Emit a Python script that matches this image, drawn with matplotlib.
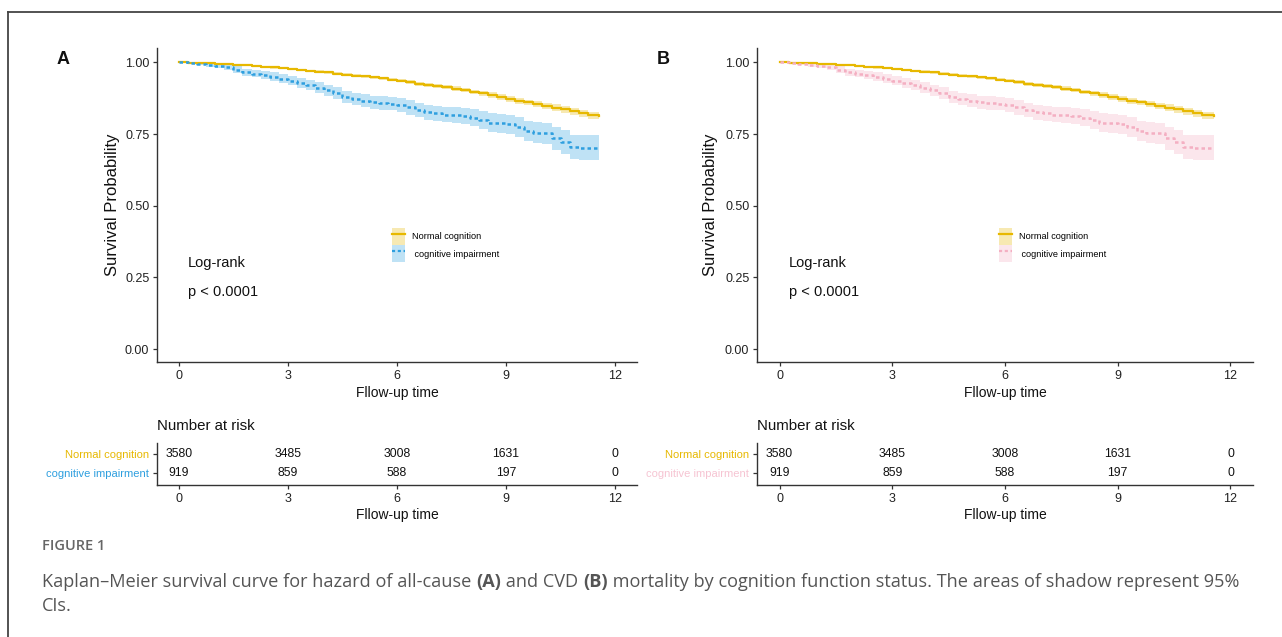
import matplotlib
matplotlib.use('Agg')
import matplotlib.pyplot as plt
from matplotlib.lines import Line2D
from matplotlib.patches import Patch
from matplotlib.text import Annotation
import numpy as np

# ---------------- data ----------------
time = [0, 0.25, 0.5, 0.75, 1.0, 1.25, 1.5, 1.75, 2.0, 2.25, 2.5, 2.75, 3.0,
        3.25, 3.5, 3.75, 4.0, 4.25, 4.5, 4.75, 5.0, 5.25, 5.5, 5.75, 6.0,
        6.25, 6.5, 6.75, 7.0, 7.25, 7.5, 7.75, 8.0, 8.25, 8.5, 8.75, 9.0,
        9.25, 9.5, 9.75, 10.0, 10.25, 10.5, 10.75, 11.0, 11.25, 11.55]

surv_normal = [1.000, 0.999, 0.998, 0.996, 0.995, 0.994, 0.991, 0.989, 0.987,
               0.985, 0.982, 0.980, 0.977, 0.974, 0.971, 0.968, 0.965, 0.961,
               0.957, 0.954, 0.951, 0.948, 0.944, 0.940, 0.936, 0.931, 0.926,
               0.922, 0.919, 0.914, 0.908, 0.903, 0.897, 0.892, 0.886, 0.879,
               0.872, 0.866, 0.860, 0.854, 0.848, 0.842, 0.836, 0.829, 0.822,
               0.815, 0.812]
ci_normal = [0.000, 0.001, 0.001, 0.002, 0.002, 0.002, 0.003, 0.003, 0.003,
             0.003, 0.004, 0.004, 0.004, 0.004, 0.004, 0.005, 0.005, 0.005,
             0.005, 0.005, 0.006, 0.006, 0.006, 0.006, 0.006, 0.007, 0.007,
             0.007, 0.007, 0.007, 0.008, 0.008, 0.008, 0.008, 0.009, 0.009,
             0.009, 0.010, 0.010, 0.010, 0.011, 0.011, 0.011, 0.012, 0.012,
             0.013, 0.013]

surv_impair = [1.000, 0.998, 0.995, 0.992, 0.988, 0.983, 0.975, 0.966, 0.961,
               0.955, 0.950, 0.943, 0.936, 0.928, 0.921, 0.912, 0.903, 0.893,
               0.880, 0.872, 0.866, 0.861, 0.858, 0.856, 0.852, 0.843, 0.833,
               0.826, 0.822, 0.818, 0.816, 0.813, 0.807, 0.798, 0.790, 0.788,
               0.784, 0.774, 0.760, 0.755, 0.752, 0.735, 0.722, 0.705, 0.703,
               0.703, 0.703]
ci_impair = [0.000, 0.003, 0.005, 0.007, 0.008, 0.010, 0.011, 0.012, 0.013,
             0.014, 0.015, 0.015, 0.016, 0.017, 0.018, 0.018, 0.019, 0.020,
             0.021, 0.021, 0.022, 0.022, 0.023, 0.023, 0.024, 0.025, 0.025,
             0.026, 0.027, 0.027, 0.028, 0.029, 0.030, 0.031, 0.032, 0.033,
             0.034, 0.035, 0.036, 0.037, 0.038, 0.039, 0.041, 0.043, 0.045,
             0.045, 0.045]

risk_times = [0, 3, 6, 9, 12]
risk_normal = [3580, 3485, 3008, 1631, 0]
risk_impair = [919, 859, 588, 197, 0]
groups = ['Normal cognition', 'cognitive impairment']
x_ticks = [0, 3, 6, 9, 12]
y_ticks = [0.00, 0.25, 0.50, 0.75, 1.00]

# ---------------- style ----------------
W, H = 1282, 637
SANS = ['Liberation Sans', 'DejaVu Sans']
CAP = ['Open Sans', 'DejaVu Sans']
plt.rcParams['font.family'] = SANS

col_normal = '#E7B800'
col_blue = '#2E9FDF'
col_pink = '#F4AFC2'
axis_col = '#333333'
txt_col = '#111111'

fig = plt.figure(figsize=(W / 100, H / 100), dpi=100)


def fx(px):
    return px / W


def fy(py):
    return 1 - py / H


def style_axes(ax, labelsize=9):
    for s in ['top', 'right']:
        ax.spines[s].set_visible(False)
    for s in ['left', 'bottom']:
        ax.spines[s].set_color(axis_col)
        ax.spines[s].set_linewidth(1.0)
    ax.tick_params(axis='both', length=3, width=0.9, color=axis_col,
                   labelsize=labelsize, labelcolor='#222222', pad=2.5)


def panel(left_px, right_px, letter, imp_col, imp_label_col, legend_xy):
    t = np.array(time)
    sn = np.array(surv_normal)
    cn = np.array(ci_normal)
    si = np.array(surv_impair)
    cimp = np.array(ci_impair)

    ax = fig.add_axes([fx(left_px), fy(362), fx(right_px - left_px), (362 - 48) / H])
    style_axes(ax)
    ax.fill_between(t, sn - cn, sn + cn, step='post', color=col_normal,
                    alpha=0.3, lw=0)
    ax.fill_between(t, si - cimp, si + cimp, step='post', color=imp_col,
                    alpha=0.3, lw=0)
    ax.step(t, sn, where='post', color=col_normal, lw=1.6)
    ax.step(t, si, where='post', color=imp_col, lw=1.8,
            linestyle=(0, (1.4, 1.2)))
    ax.set_xlim(-0.6, 12.6)
    ax.set_ylim(-0.045, 1.05)
    ax.set_xticks(x_ticks)
    ax.set_yticks(y_ticks)
    ax.set_yticklabels(['%.2f' % v for v in y_ticks])
    ax.set_xlabel('Fllow-up time', fontsize=10, color=txt_col)
    ax.xaxis.set_label_coords(0.5, -0.078)
    ax.set_ylabel('Survival Probability', fontsize=12, color=txt_col)
    ax.yaxis.set_label_coords(-0.078, 0.5)
    ax.text(0.25, 0.30, 'Log-rank', fontsize=10.5, va='center', ha='left',
            color=txt_col)
    ax.text(0.25, 0.20, 'p < 0.0001', fontsize=10.5, va='center', ha='left',
            color=txt_col)

    handles = [(Patch(facecolor=col_normal, alpha=0.3, lw=0),
                Line2D([], [], color=col_normal, lw=1.6)),
               (Patch(facecolor=imp_col, alpha=0.3, lw=0),
                Line2D([], [], color=imp_col, lw=1.6, linestyle=(0, (1.4, 1.2))))]
    ax.legend(handles, [groups[0], ' ' + groups[1]], loc='upper left',
              bbox_to_anchor=(fx(legend_xy[0]), fy(legend_xy[1])),
              bbox_transform=fig.transFigure, frameon=False, fontsize=6.6,
              handlelength=1.45, handleheight=2.5, handletextpad=0.7,
              labelspacing=0.0, borderpad=0, borderaxespad=0)

    fig.text(fx(left_px - 94), fy(60), letter, fontsize=13, fontweight='bold',
             ha='center', va='center', color=txt_col)

    # risk table
    at = fig.add_axes([fx(left_px), fy(485), fx(right_px - left_px), 42 / H])
    style_axes(at)
    at.tick_params(axis='y', labelsize=8)
    at.set_xlim(-0.6, 12.6)
    at.set_ylim(-0.63, 1.58)
    at.set_xticks(x_ticks)
    at.set_yticks([1, 0])
    at.set_yticklabels(groups)
    for lab, c in zip(at.get_yticklabels(), [col_normal, imp_label_col]):
        lab.set_color(c)
    for x, a, b in zip(risk_times, risk_normal, risk_impair):
        at.text(x, 1, str(a), ha='center', va='center', fontsize=8.8,
                color=txt_col)
        at.text(x, 0, str(b), ha='center', va='center', fontsize=8.8,
                color=txt_col)
    at.set_xlabel('Fllow-up time', fontsize=10, color=txt_col)
    at.xaxis.set_label_coords(0.5, -0.55)
    at.text(0, 1.405, 'Number at risk', transform=at.transAxes, fontsize=10.8,
            ha='left', va='center', color=txt_col)


panel(157, 637, 'A', col_blue, col_blue, (392, 228))
panel(757, 1253, 'B', col_pink, '#F6C4D2', (999, 228))

# frame lines
fig.add_artist(Line2D([fx(8), 1.0], [fy(12), fy(12)], transform=fig.transFigure,
                      color='#444444', lw=1.3))
fig.add_artist(Line2D([fx(8), fx(8)], [0.0, fy(12)], transform=fig.transFigure,
                      color='#444444', lw=1.3))

# caption
fig.text(fx(42), fy(546), 'FIGURE 1', family=CAP, fontsize=10.5,
         fontweight='semibold', color='#666666', ha='left', va='center')
parts = [('Kaplan\u2013Meier survival curve for hazard of all-cause ', 'normal'),
         ('(A)', 'bold'), (' and CVD ', 'normal'), ('(B)', 'bold'),
         (' mortality by cognition function status. The areas of shadow represent 95%', 'normal')]
cap_size = 13.1
anchor = fig.text(fx(42), fy(582), parts[0][0], family=CAP, fontsize=cap_size,
                  color='#555555', ha='left', va='center')
for txt, w in parts[1:]:
    anchor = fig.add_artist(Annotation(
        txt, xy=(1, 0), xycoords=anchor, va='bottom', ha='left',
        family=CAP, fontsize=cap_size, fontweight=w, color='#555555'))
fig.text(fx(42), fy(606), 'CIs.', family=CAP, fontsize=cap_size, color='#555555',
         ha='left', va='center')

fig.savefig('out.png', dpi=100)
